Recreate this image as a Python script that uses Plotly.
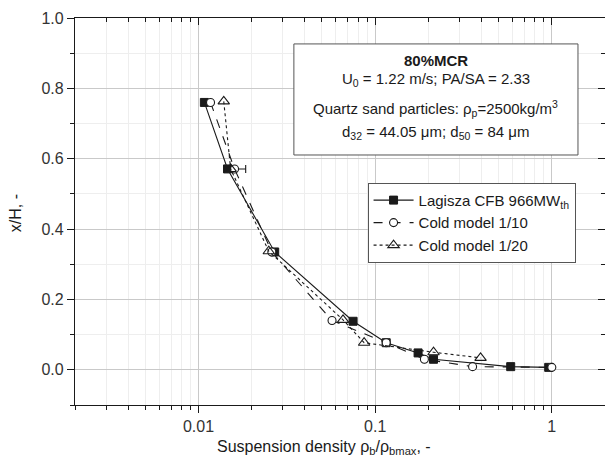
import plotly.graph_objects as go

# Normalised suspension density profiles along the riser height
lagisza_rho = [0.0108, 0.0146, 0.027, 0.075, 0.1155, 0.175, 0.214, 0.585, 0.96]
lagisza_h = [0.760, 0.571, 0.335, 0.138, 0.077, 0.048, 0.030, 0.009, 0.007]

cold10_rho = [0.0117, 0.0160, 0.026, 0.057, 0.1155, 0.190, 0.356, 1.0]
cold10_h = [0.760, 0.571, 0.335, 0.140, 0.077, 0.030, 0.009, 0.007]
cold10_err_plus = [None, 0.0025, None, None, None, None, None, None]
cold10_err_minus = [None, 0.0020, None, None, None, None, None, None]

cold20_rho = [0.0139, 0.0152, 0.025, 0.0658, 0.0866, 0.214, 0.395]
cold20_h = [0.763, 0.571, 0.337, 0.142, 0.077, 0.050, 0.034]

x_tickvals = [0.01, 0.1, 1]
x_ticktext = ["0.01", "0.1", "1"]
y_tickvals = [0.0, 0.2, 0.4, 0.6, 0.8, 1.0]

FONT = "Liberation Sans, Arial, sans-serif"
INK = "#1a1a1a"

fig = go.Figure()

fig.add_trace(go.Scatter(
    x=lagisza_rho, y=lagisza_h, mode="lines+markers",
    name="Lagisza CFB 966MW<sub>th</sub>",
    line=dict(color=INK, width=1.1),
    marker=dict(symbol="square", size=8, color=INK, line=dict(color=INK, width=1)),
))
fig.add_trace(go.Scatter(
    x=cold10_rho, y=cold10_h, mode="lines+markers",
    name="Cold model 1/10",
    line=dict(color=INK, width=1.1, dash="dash"),
    marker=dict(symbol="circle", size=8, color="white", line=dict(color=INK, width=1.1)),
    error_x=dict(type="data", symmetric=False, array=cold10_err_plus,
                 arrayminus=cold10_err_minus, color=INK, thickness=1.1, width=4),
))
fig.add_trace(go.Scatter(
    x=cold20_rho, y=cold20_h, mode="lines+markers",
    name="Cold model 1/20",
    line=dict(color=INK, width=1.1, dash="dot"),
    marker=dict(symbol="triangle-up-open", size=10, color=INK, line=dict(color=INK, width=1.1)),
))

# empty trace so the mirrored top/right axes get drawn
fig.add_trace(go.Scatter(x=[], y=[], xaxis="x2", yaxis="y2", showlegend=False, hoverinfo="skip"))

xrange = [-2.699, 0.301]
yrange = [-0.1, 1.0]

fig.update_layout(
    width=605, height=461,
    margin=dict(l=75, r=0, t=18, b=56),
    paper_bgcolor="white", plot_bgcolor="white",
    font=dict(family=FONT, size=13, color=INK),
    xaxis=dict(
        type="log", range=xrange,
        tickvals=x_tickvals, ticktext=x_ticktext,
        ticks="outside", ticklen=7, tickwidth=1, tickcolor=INK,
        showline=True, linecolor=INK, linewidth=1.3,
        showgrid=True, gridcolor="#c9c9c9", gridwidth=1,
        minor=dict(dtick="D1", ticks="outside", ticklen=4, tickcolor=INK,
                   showgrid=True, gridcolor="#eeeeee", gridwidth=1),
        tickfont=dict(size=16, color="#333333"),
        zeroline=False,
    ),
    yaxis=dict(
        range=yrange, tickvals=y_tickvals, tickformat=".1f",
        ticks="outside", ticklen=7, tickwidth=1, tickcolor=INK,
        showline=True, linecolor=INK, linewidth=1.3,
        showgrid=True, gridcolor="#c9c9c9", gridwidth=1,
        minor=dict(dtick=0.1, ticks="outside", ticklen=4, tickcolor=INK,
                   showgrid=True, gridcolor="#eeeeee", gridwidth=1),
        tickfont=dict(size=16, color="#333333"),
        zeroline=False,
    ),
    xaxis2=dict(
        type="log", range=xrange, overlaying="x", side="top",
        tickvals=x_tickvals, showticklabels=False,
        ticks="inside", ticklen=7, tickcolor=INK,
        minor=dict(dtick="D1", ticks="inside", ticklen=4, tickcolor=INK, showgrid=False),
        showline=True, linecolor=INK, linewidth=1.3, showgrid=False, zeroline=False,
    ),
    yaxis2=dict(
        range=yrange, overlaying="y", side="right",
        tickvals=y_tickvals, showticklabels=False,
        ticks="inside", ticklen=7, tickcolor=INK,
        minor=dict(dtick=0.1, ticks="inside", ticklen=4, tickcolor=INK, showgrid=False),
        showline=True, linecolor=INK, linewidth=1.3, showgrid=False, zeroline=False,
    ),
    legend=dict(
        x=0.552, y=0.574, xanchor="left", yanchor="top",
        bgcolor="white", bordercolor="#555555", borderwidth=1,
        font=dict(size=15, color=INK), tracegroupgap=0,
        itemwidth=40,
    ),
    showlegend=True,
)

# axis titles
fig.add_annotation(text="Suspension density ρ<sub>b</sub>/ρ<sub>bmax</sub>, -",
                   xref="paper", yref="paper", x=0.47, y=-0.111,
                   xanchor="center", yanchor="middle", showarrow=False,
                   font=dict(size=16, color=INK, family=FONT))
fig.add_annotation(text="x/H, -", xref="paper", yref="paper",
                   x=-0.113, y=0.496, textangle=-90,
                   xanchor="center", yanchor="middle", showarrow=False,
                   font=dict(size=16, color=INK, family=FONT))

# info box with operating conditions
fig.add_shape(type="rect", xref="paper", yref="paper",
              x0=0.413, x1=0.949, y0=0.646, y1=0.933,
              line=dict(color="#555555", width=1), fillcolor="white", layer="above")

box_lines = [
    ("<b>80%MCR</b>", 0.889),
    ("U<sub>0</sub> = 1.22 m/s; PA/SA = 2.33", 0.840),
    ("Quartz sand particles: ρ<sub>p</sub>=2500kg/m<sup>3</sup>", 0.767),
    ("d<sub>32</sub> = 44.05 μm; d<sub>50</sub> = 84 μm", 0.703),
]
for txt, yy in box_lines:
    fig.add_annotation(text=txt, xref="paper", yref="paper", x=0.681, y=yy,
                       showarrow=False, xanchor="center", yanchor="middle",
                       font=dict(size=15, color=INK, family=FONT))

fig.write_html("out.html")
